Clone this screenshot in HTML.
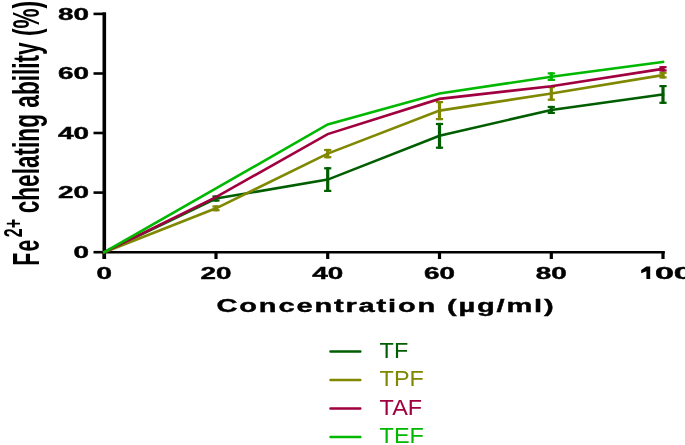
<!DOCTYPE html>
<html><head><meta charset="utf-8"><style>
html,body{margin:0;padding:0;background:#fff;}
body{width:685px;height:445px;overflow:hidden;position:relative;}
svg{position:absolute;left:0;top:0;will-change:transform;}
text{font-family:"Liberation Sans",sans-serif;}
.b{font-weight:bold;fill:#000;}
.k{stroke:#000;stroke-width:0.4px;}
.r{font-weight:normal;}
</style></head><body>
<svg width="685" height="445" viewBox="0 0 685 445">
<rect x="102.5" y="12.3" width="3.6" height="246.7" fill="#000"/>
<rect x="102.5" y="251" width="562.3" height="2.5" fill="#000"/>
<rect x="93.5" y="12.6" width="10" height="2.6" fill="#000"/>
<rect x="93.5" y="72.2" width="10" height="2.6" fill="#000"/>
<rect x="93.5" y="131.7" width="10" height="2.6" fill="#000"/>
<rect x="93.5" y="191.3" width="10" height="2.6" fill="#000"/>
<rect x="93.5" y="250.9" width="10" height="2.6" fill="#000"/>
<rect x="102.7" y="252" width="3.2" height="7" fill="#000"/>
<rect x="214.4" y="252" width="3.2" height="7" fill="#000"/>
<rect x="326.1" y="252" width="3.2" height="7" fill="#000"/>
<rect x="437.9" y="252" width="3.2" height="7" fill="#000"/>
<rect x="549.7" y="252" width="3.2" height="7" fill="#000"/>
<rect x="661.4" y="252" width="3.2" height="7" fill="#000"/>
<polyline points="104.3,252.2 216.0,198.5 327.7,179.6 439.5,135.7 551.3,110.0 663.0,94.5" fill="none" stroke="#005e00" stroke-width="2.6" stroke-linejoin="miter" stroke-linecap="square"/>
<rect x="214.4" y="195.4" width="3.2" height="6.2" fill="#005e00"/>
<rect x="212.4" y="195.4" width="7.2" height="2.2" fill="#005e00"/>
<rect x="212.4" y="199.4" width="7.2" height="2.2" fill="#005e00"/>
<rect x="326.1" y="167.2" width="3.2" height="24.8" fill="#005e00"/>
<rect x="324.1" y="167.2" width="7.2" height="2.2" fill="#005e00"/>
<rect x="324.1" y="189.8" width="7.2" height="2.2" fill="#005e00"/>
<rect x="437.9" y="122.9" width="3.2" height="25.9" fill="#005e00"/>
<rect x="435.9" y="122.9" width="7.2" height="2.2" fill="#005e00"/>
<rect x="435.9" y="146.6" width="7.2" height="2.2" fill="#005e00"/>
<rect x="549.7" y="105.9" width="3.2" height="8.1" fill="#005e00"/>
<rect x="547.7" y="105.9" width="7.2" height="2.2" fill="#005e00"/>
<rect x="547.7" y="111.8" width="7.2" height="2.2" fill="#005e00"/>
<rect x="661.4" y="85.0" width="3.2" height="18.9" fill="#005e00"/>
<rect x="659.4" y="85.0" width="7.2" height="2.2" fill="#005e00"/>
<rect x="659.4" y="101.7" width="7.2" height="2.2" fill="#005e00"/>
<polyline points="104.3,252.2 216.0,208.3 327.7,153.6 439.5,110.6 551.3,93.5 663.0,75.1" fill="none" stroke="#7f8800" stroke-width="2.6" stroke-linejoin="miter" stroke-linecap="square"/>
<rect x="214.4" y="205.4" width="3.2" height="5.9" fill="#7f8800"/>
<rect x="212.4" y="205.4" width="7.2" height="2.2" fill="#7f8800"/>
<rect x="212.4" y="209.1" width="7.2" height="2.2" fill="#7f8800"/>
<rect x="326.1" y="148.9" width="3.2" height="9.4" fill="#7f8800"/>
<rect x="324.1" y="148.9" width="7.2" height="2.2" fill="#7f8800"/>
<rect x="324.1" y="156.1" width="7.2" height="2.2" fill="#7f8800"/>
<rect x="437.9" y="101.0" width="3.2" height="19.2" fill="#7f8800"/>
<rect x="435.9" y="101.0" width="7.2" height="2.2" fill="#7f8800"/>
<rect x="435.9" y="118.0" width="7.2" height="2.2" fill="#7f8800"/>
<rect x="549.7" y="86.0" width="3.2" height="14.8" fill="#7f8800"/>
<rect x="547.7" y="86.0" width="7.2" height="2.2" fill="#7f8800"/>
<rect x="547.7" y="98.6" width="7.2" height="2.2" fill="#7f8800"/>
<rect x="661.4" y="71.7" width="3.2" height="6.8" fill="#7f8800"/>
<rect x="659.4" y="71.7" width="7.2" height="2.2" fill="#7f8800"/>
<rect x="659.4" y="76.3" width="7.2" height="2.2" fill="#7f8800"/>
<polyline points="104.3,252.2 216.0,197.1 327.7,134.1 439.5,98.9 551.3,86.2 663.0,68.8" fill="none" stroke="#a0003f" stroke-width="2.6" stroke-linejoin="miter" stroke-linecap="square"/>
<rect x="661.4" y="66.1" width="3.2" height="5.4" fill="#a0003f"/>
<rect x="659.4" y="66.1" width="7.2" height="2.2" fill="#a0003f"/>
<rect x="659.4" y="69.3" width="7.2" height="2.2" fill="#a0003f"/>
<polyline points="104.3,252.2 216.0,188.4 327.7,124.4 439.5,93.5 551.3,76.7 663.0,61.9" fill="none" stroke="#00b800" stroke-width="2.6" stroke-linejoin="miter" stroke-linecap="square"/>
<rect x="549.7" y="72.3" width="3.2" height="8.7" fill="#00b800"/>
<rect x="547.7" y="72.3" width="7.2" height="2.2" fill="#00b800"/>
<rect x="547.7" y="78.8" width="7.2" height="2.2" fill="#00b800"/>
<rect x="329.3" y="350.15" width="32.2" height="2.5" rx="1" fill="#005e00"/>
<text transform="translate(379.6,357.8) scale(1.09,1)" font-size="21.5" fill="#005e00" class="r">TF</text>
<rect x="329.3" y="378.65" width="32.2" height="2.5" rx="1" fill="#7f8800"/>
<text transform="translate(379.6,386.3) scale(1.09,1)" font-size="21.5" fill="#7f8800" class="r">TPF</text>
<rect x="329.3" y="407.15" width="32.2" height="2.5" rx="1" fill="#a0003f"/>
<text transform="translate(379.6,414.8) scale(1.09,1)" font-size="21.5" fill="#a0003f" class="r">TAF</text>
<rect x="329.3" y="435.65" width="32.2" height="2.5" rx="1" fill="#00b800"/>
<text transform="translate(379.6,443.3) scale(1.09,1)" font-size="21.5" fill="#00b800" class="r">TEF</text>
<text x="89" y="19.8" text-anchor="end" font-size="16.5" class="b k" textLength="31" lengthAdjust="spacingAndGlyphs">80</text>
<text x="89" y="79.3" text-anchor="end" font-size="16.5" class="b k" textLength="31" lengthAdjust="spacingAndGlyphs">60</text>
<text x="89" y="138.8" text-anchor="end" font-size="16.5" class="b k" textLength="31" lengthAdjust="spacingAndGlyphs">40</text>
<text x="89" y="198.3" text-anchor="end" font-size="16.5" class="b k" textLength="31" lengthAdjust="spacingAndGlyphs">20</text>
<text x="89" y="257.8" text-anchor="end" font-size="16.5" class="b k" textLength="15.5" lengthAdjust="spacingAndGlyphs">0</text>
<text x="104.3" y="279" text-anchor="middle" font-size="16.8" class="b k" textLength="15.5" lengthAdjust="spacingAndGlyphs">0</text>
<text x="216.0" y="279" text-anchor="middle" font-size="16.8" class="b k" textLength="31" lengthAdjust="spacingAndGlyphs">20</text>
<text x="327.7" y="279" text-anchor="middle" font-size="16.8" class="b k" textLength="31" lengthAdjust="spacingAndGlyphs">40</text>
<text x="439.5" y="279" text-anchor="middle" font-size="16.8" class="b k" textLength="31" lengthAdjust="spacingAndGlyphs">60</text>
<text x="551.3" y="279" text-anchor="middle" font-size="16.8" class="b k" textLength="31" lengthAdjust="spacingAndGlyphs">80</text>
<path d="M646.4,266.4 L650.2,266.4 L650.2,279 L646.4,279 L646.4,271.2 L641.2,273.2 L641.2,270.0 Z" fill="#000"/>
<text x="654.9" y="279" font-size="16.8" class="b k" textLength="38" lengthAdjust="spacingAndGlyphs">00</text>
<text x="216.5" y="312.4" font-size="19.2" class="b k" letter-spacing="1.2" textLength="339" lengthAdjust="spacingAndGlyphs">Concentration (µg/ml)</text>
<g transform="translate(39.3,265.8) rotate(-90) scale(0.58,1)" class="b"><text x="0" y="0" font-size="36.5" letter-spacing="2.5">Fe</text></g>
<g transform="translate(39.3,266.1) rotate(-90) scale(0.6427,1)" class="b"><text x="44.9" y="-17" font-size="25">2+</text></g>
<g transform="translate(39.3,213.30) rotate(-90) scale(0.620,1)" class="b"><text x="0" y="0" font-size="36.5">chelating ability (%)</text></g>
</svg>
</body></html>
